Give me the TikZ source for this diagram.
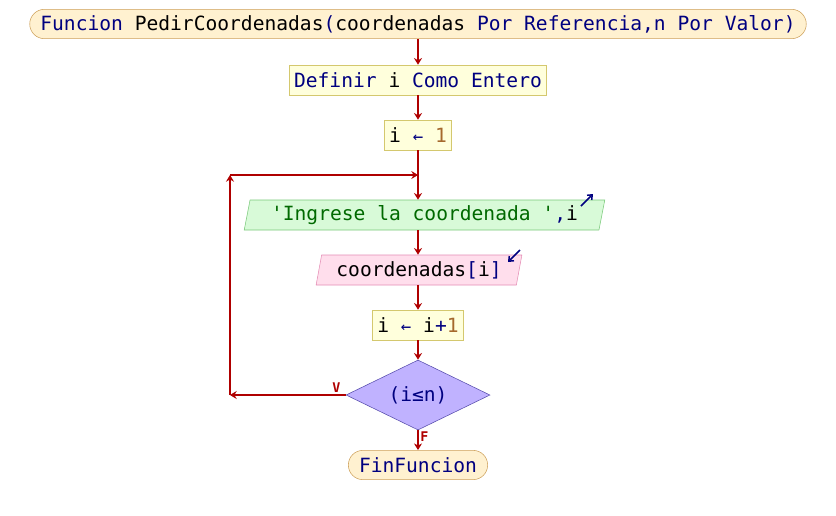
\documentclass[tikz,border=0pt]{standalone}
\usepackage{fontspec}
\setmonofont{DejaVu Sans Mono}
\usepackage{tikz}
\usetikzlibrary{arrows.meta,positioning,shapes.geometric}

\definecolor{flowred}{RGB}{175,0,0}
\definecolor{kwnavy}{RGB}{0,0,128}
\definecolor{strgreen}{RGB}{0,105,0}
\definecolor{numbrown}{RGB}{165,105,45}
\definecolor{pillfill}{RGB}{255,241,208}
\definecolor{pilldraw}{RGB}{205,160,90}
\definecolor{procfill}{RGB}{255,255,220}
\definecolor{procdraw}{RGB}{212,200,110}
\definecolor{infill}{RGB}{216,250,216}
\definecolor{indraw}{RGB}{120,200,120}
\definecolor{outfill}{RGB}{255,222,236}
\definecolor{outdraw}{RGB}{228,140,180}
\definecolor{condfill}{RGB}{192,178,255}
\definecolor{conddraw}{RGB}{85,75,170}

\newcommand{\kw}[1]{\textcolor{kwnavy}{#1}}
\newcommand{\str}[1]{\textcolor{strgreen}{#1}}
\newcommand{\num}[1]{\textcolor{numbrown}{#1}}
\newcommand{\asig}{\kw{\fontsize{13}{17}\selectfont ←}}

\begin{document}
\begin{tikzpicture}[x=0.75pt,y=-0.75pt,
  every node/.style={font=\ttfamily\fontsize{14.7}{17}\selectfont},
  pill/.style={draw=pilldraw,fill=pillfill,rounded corners=11pt,minimum height=22pt,inner xsep=8pt,inner ysep=0pt},
  proc/.style={draw=procdraw,fill=procfill,minimum height=22.5pt,inner xsep=3.5pt,inner ysep=0pt},
  slanted/.style={trapezium,trapezium left angle=75,trapezium right angle=105,trapezium stretches=true,minimum height=22.5pt,inner sep=0pt},
  inbox/.style={slanted,draw=indraw,fill=infill,minimum width=271pt},
  outbox/.style={slanted,draw=outdraw,fill=outfill,minimum width=154.5pt},
  cond/.style={diamond,draw=conddraw,fill=condfill,aspect=2.06,inner sep=0pt,minimum width=108pt,minimum height=52.5pt},
  flow/.style={draw=flowred,line width=1.5pt,-{Stealth[length=5pt,width=6pt]}},
  tag/.style={text=flowred,font=\ttfamily\bfseries\fontsize{10}{12}\selectfont,inner sep=1pt},
  io/.style={draw=kwnavy,line width=1.1pt,-{Straight Barb[length=3pt,width=5pt]}}]
\useasboundingbox (0,0) rectangle (836,515);

\node[pill] (inicio) at (418,24) {\kw{Funcion} PedirCoordenadas\kw{(}coordenadas \kw{Por Referencia,n Por Valor)}};
\node[proc] (definir) at (418,80) {\kw{Definir} i \kw{Como Entero}};
\node[proc] (asig1) at (418,135) {i \asig{} \num{1}};
\node[inbox] (leer) at (424.5,215) {\str{'Ingrese la coordenada '}\kw{,}i};
\node[outbox] (mostrar) at (419,270) {coordenadas\kw{[}i\kw{]}};
\node[proc] (incr) at (418,325) {i \asig{} i\kw{+}\num{1}};
\node[cond] (test) at (418,395) {\kw{(i≤n)}};
\node[pill] (fin) at (418,465) {\kw{FinFuncion}};

\coordinate (loopin) at (418,175);
\coordinate (loopbl) at (230,395);
\coordinate (looptl) at (230,175);

% flujo principal
\draw[flow] (inicio) -- (definir);
\draw[flow] (definir) -- (asig1);
\draw[flow] (asig1) -- (leer.north -| asig1);
\draw[flow] (leer.south -| asig1) -- (mostrar.north -| asig1);
\draw[flow] (mostrar.south -| asig1) -- (incr);
\draw[flow] (incr) -- (test);
\draw[flow] (test) -- node[tag,right,pos=0.3] {F} (fin);

% ciclo
\draw[flow] (test.west) -- node[tag,above,pos=0.08] {V} (loopbl);
\draw[flow] (loopbl) -- (looptl);
\draw[flow] (looptl) -- (loopin);

% iconos de entrada/salida
\coordinate (leera) at (581,206);
\coordinate (leerb) at (593,194);
\coordinate (mostrara) at (520,250);
\coordinate (mostrarb) at (508,262);
\draw[io] (leera) -- (leerb);
\draw[io] (mostrara) -- (mostrarb);
\end{tikzpicture}
\end{document}
